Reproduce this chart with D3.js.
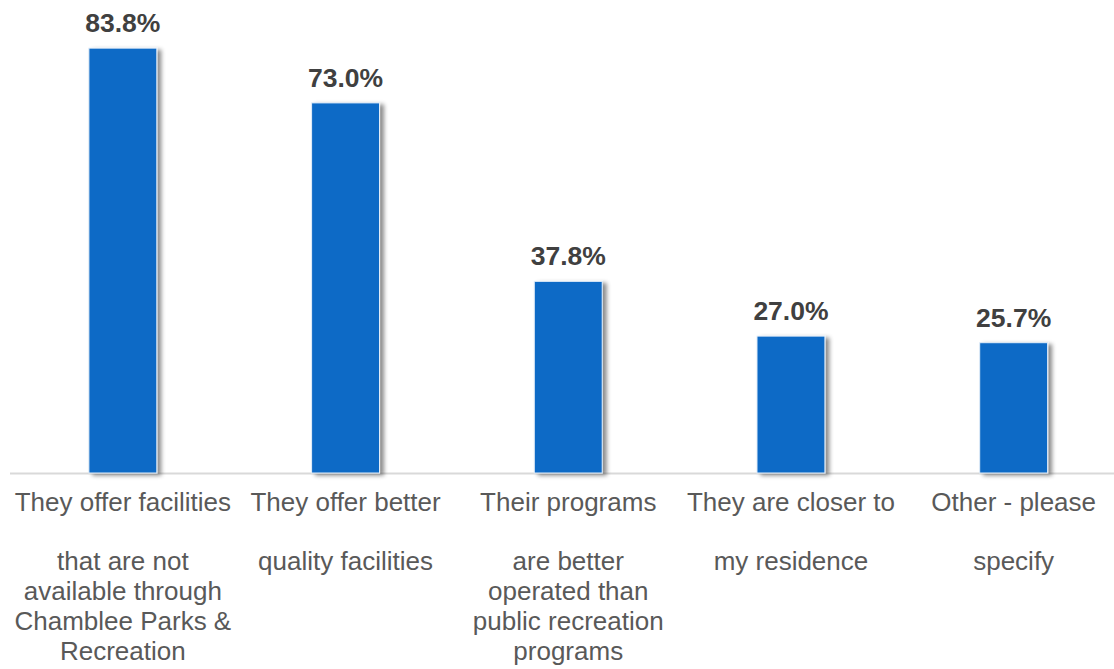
<!DOCTYPE html>
<html>
<head>
<meta charset="utf-8">
<script src="https://cdn.jsdelivr.net/npm/d3@7"></script>
<style>
  html, body { margin: 0; padding: 0; background: #ffffff; }
  svg { display: block; }
</style>
</head>
<body>
<svg id="chart" width="1114" height="669"></svg>
<script>
// Reasons for using other providers (share of respondents, %)
const categories = [
  "They offer facilities that are not available through Chamblee Parks & Recreation",
  "They offer better quality facilities",
  "Their programs are better operated than public recreation programs",
  "They are closer to my residence",
  "Other - please specify"
];
const values = [83.8, 73.0, 37.8, 27.0, 25.7];
const categoryLines = [
  ["They offer facilities", "", "that are not", "available through", "Chamblee Parks &", "Recreation"],
  ["They offer better", "", "quality facilities"],
  ["Their programs", "", "are better", "operated than", "public recreation", "programs"],
  ["They are closer to", "", "my residence"],
  ["Other - please", "", "specify"]
];

const width = 1114, height = 669;
const baseY = 473;

const svg = d3.select("#chart");

// soft grey shadow to the lower right of each bar
const defs = svg.append("defs");
const f = defs.append("filter").attr("id", "barShadow")
  .attr("x", "-20%").attr("y", "-10%").attr("width", "160%").attr("height", "130%");
f.append("feDropShadow")
  .attr("dx", 4).attr("dy", 2).attr("stdDeviation", 2.2)
  .attr("flood-color", "#000").attr("flood-opacity", 0.45);

const x = d3.scaleBand()
  .domain(categories)
  .range([11.5, 1125])
  .paddingInner(0.695)
  .paddingOuter(0.3475);

const y = d3.scaleLinear()
  .domain([0, 90])
  .range([baseY, baseY - 90 * 5.07]);

const data = categories.map((c, i) => ({ cat: c, value: values[i], lines: categoryLines[i] }));

// baseline
svg.append("line")
  .attr("x1", 10).attr("x2", width)
  .attr("y1", baseY + 0.5).attr("y2", baseY + 0.5)
  .attr("stroke", "#d9d9d9").attr("stroke-width", 2);

// bars
svg.append("g").selectAll("rect")
  .data(data)
  .join("rect")
  .attr("x", d => x(d.cat))
  .attr("y", d => y(d.value))
  .attr("width", x.bandwidth())
  .attr("height", d => y(0) - y(d.value))
  .attr("fill", "#0e6ac6")
  .attr("stroke", "#e3eef9")
  .attr("stroke-width", 1)
  .attr("filter", "url(#barShadow)");

// value labels
svg.append("g").selectAll("text")
  .data(data)
  .join("text")
  .attr("x", d => x(d.cat) + x.bandwidth() / 2)
  .attr("y", d => y(d.value) - 16)
  .attr("text-anchor", "middle")
  .attr("font-family", "'Liberation Sans', Arial, sans-serif")
  .attr("font-weight", "bold")
  .attr("font-size", 26.5)
  .attr("fill", "#404040")
  .text(d => d.value.toFixed(1) + "%");

// category labels
const catG = svg.append("g").selectAll("text")
  .data(data)
  .join("text")
  .attr("x", d => x(d.cat) + x.bandwidth() / 2)
  .attr("y", 511)
  .attr("text-anchor", "middle")
  .attr("font-family", "'Liberation Sans', Arial, sans-serif")
  .attr("font-size", 26)
  .attr("fill", "#595959");

catG.each(function(d) {
  const t = d3.select(this);
  d.lines.forEach((ln, i) => {
    t.append("tspan")
      .attr("x", x(d.cat) + x.bandwidth() / 2)
      .attr("dy", i === 0 ? 0 : 29.7)
      .text(ln === "" ? "\u00a0" : ln);
  });
});
</script>
</body>
</html>
